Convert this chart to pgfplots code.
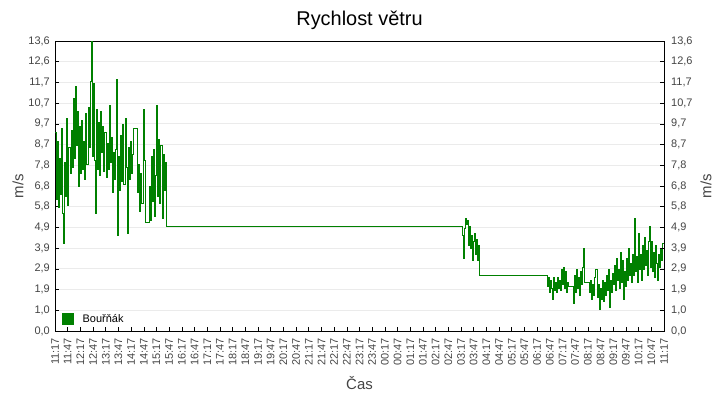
\documentclass[border=0pt]{standalone}
\usepackage{fontspec}
\setmainfont{Liberation Sans}
\usepackage{pgfplots}
\usepackage{pgfplotstable}
\pgfplotsset{compat=1.18}

\definecolor{windgreen}{RGB}{0,128,0}
\definecolor{gridgray}{RGB}{235,235,235}
\definecolor{labelgray}{RGB}{68,68,68}

% t = minutes since 11:17, v = wind speed in m/s
\pgfplotstableread{
t v
0 9.3
2.5 6.2
5 8.9
7.5 5.8
10 8.1
12.5 6.4
15 9.5
17.5 5.5
20 4.1
22.5 7.9
25 6.3
27.5 10.0
30 5.9
32.5 8.6
35 7.4
37.5 9.4
40 7.7
42.5 10.9
45 8.1
47.5 11.5
50 8.7
52.5 10.3
55 6.8
57.5 9.6
60 7.4
62.5 9.9
65 7.6
67.5 8.9
70 7.1
72.5 10.2
75 7.8
77.5 10.5
80 8.6
82.5 11.7
85 13.6
87.5 8.2
90 11.6
92.5 8.0
95 5.5
97.5 10.4
100 7.6
102.5 9.8
105 7.3
107.5 10.3
110 8.4
112.5 9.6
115 7.5
117.5 9.3
120 7.2
122.5 8.8
125 7.6
127.5 10.6
130 7.9
132.5 9.1
135 6.5
137.5 8.4
140 7.1
142.5 8.5
145 11.8
147.5 4.5
150 8.2
152.5 6.6
155 9.2
157.5 7.0
160 9.7
162.5 6.9
165 10.0
167.5 7.7
170 4.6
172.5 8.6
175 7.1
177.5 8.9
180 7.4
182.5 8.3
185 9.5
187.5 9.5
190 9.5
192.5 9.5
195 6.5
197.5 7.8
200 5.6
202.5 7.4
205 6.0
207.5 10.4
210 8.0
212.5 5.1
215 5.1
217.5 5.1
220 5.1
222.5 6.8
225 5.2
227.5 8.2
230 6.1
232.5 8.5
235 5.4
237.5 7.3
240 10.6
242.5 6.3
245 9.0
247.5 6.0
250 8.7
252.5 5.3
255 8.3
257.5 6.6
260 7.9
262.5 4.9
962 4.5
964.5 3.4
967 4.8
969 5.3
971.5 5.0
974 5.2
976 4.0
978.5 4.9
981 3.9
983.5 4.5
986 3.3
988 4.2
990.5 4.6
993 3.6
995 4.3
997.5 3.3
1000 4.0
1002 2.6
1161 2.6
1163.4 2.1
1165.8 2.5
1168.2 1.8
1170.6 2.4
1173 2.0
1175.4 1.5
1177.8 2.5
1180.2 1.9
1182.6 2.3
1185 1.8
1187.4 2.5
1189.8 2.0
1192.2 2.4
1194.6 1.9
1197 2.9
1199.4 2.2
1201.8 3.0
1204.2 2.0
1206.6 2.8
1209 1.8
1211.4 2.3
1213.8 2.1
1216.2 2.1
1218.6 2.1
1221 2.1
1223.4 2.1
1225.8 1.3
1228.2 2.6
1230.6 1.8
1233 2.9
1235.4 2.0
1237.8 2.5
1240.2 1.7
1242.6 2.8
1245 2.2
1247.4 3.0
1249.8 3.9
1252.2 2.3
1254.6 2.3
1257 2.3
1259.4 2.3
1261.8 2.3
1264.2 1.8
1266.6 2.4
1269 1.5
1271.4 2.2
1273.8 1.7
1276.2 2.5
1278.6 2.9
1281 1.6
1283.4 2.2
1285.8 1.0
1288.2 2.0
1290.6 1.5
1293 2.4
1295.4 1.4
1297.8 2.3
1300.2 1.7
1302.6 2.6
1305 1.9
1307.4 2.9
1309.8 1.1
1312.2 2.4
1314.6 1.8
1317 2.7
1319.4 2.2
1321.8 3.1
1324.2 1.9
1326.6 3.4
1329 2.4
1331.4 2.9
1333.8 2.0
1336.2 3.7
1338.6 2.3
1341 3.3
1343.4 1.5
1345.8 2.8
1348.2 2.1
1350.6 3.4
1353 2.4
1355.4 3.9
1357.8 2.6
1360.2 3.2
1362.6 2.3
1365 3.6
1367.4 2.6
1369.8 5.3
1372.2 2.8
1374.6 3.5
1377 2.3
1379.4 4.6
1381.8 2.9
1384.2 3.6
1386.6 2.4
1389 4.0
1391.4 2.9
1393.8 4.4
1396.2 3.1
1398.6 3.8
1401 2.6
1403.4 4.2
1405.8 4.9
1408.2 3.0
1410.6 4.2
1413 2.8
1415.4 3.7
1417.8 2.5
1420.2 4.0
1422.6 3.2
1425 2.4
1427.4 3.6
1429.8 3.0
1432.2 3.9
1434.6 3.3
1437 4.1
1439.4 3.2
1440 3.0
}\windtable

\pgfplotsset{
  windbase/.style={
    scale only axis,
    width=609bp, height=290bp,
    xmin=0, xmax=1440, ymin=0, ymax=13.6,
    ytick={0,0.97143,1.94286,2.91429,3.88571,4.85714,5.82857,6.8,7.77143,8.74286,9.71429,10.68571,11.65714,12.62857,13.6},
    yticklabels={{0,0},{1,0},{1,9},{2,9},{3,9},{4,9},{5,8},{6,8},{7,8},{8,7},{9,7},{10,7},{11,7},{12,6},{13,6}},
    major tick length=4bp,
    tick style={black, line width=0.6bp},
    tick align=inside,
    axis line style={black, line width=0.8bp},
    tick label style={font=\fontsize{11}{13}\selectfont, text=labelgray},
    yticklabel style={inner sep=0pt},
  }
}

\begin{document}
\begin{tikzpicture}
\begin{axis}[
  windbase,
  xtick={0,30,...,1440},
  xticklabels={11:17,11:47,12:17,12:47,13:17,13:47,14:17,14:47,15:17,15:47,16:17,16:47,17:17,17:47,18:17,18:47,19:17,19:47,20:17,20:47,21:17,21:47,22:17,22:47,23:17,23:47,00:17,00:47,01:17,01:47,02:17,02:47,03:17,03:47,04:17,04:47,05:17,05:47,06:17,06:47,07:17,07:47,08:17,08:47,09:17,09:47,10:17,10:47,11:17},
  xticklabel style={rotate=90, anchor=east, inner sep=0pt},
  xticklabel shift=7bp,
  yticklabel shift=5bp,
  xtick pos=bottom,
  ytick pos=left,
  ymajorgrids,
  grid style={gridgray, line width=0.8bp},
  xlabel={Čas},
  ylabel={m/s},
  every axis x label/.style={at={(axis description cs:0.5,0)}, anchor=center, yshift=-52bp,
    font=\fontsize{15}{18}\selectfont, text=labelgray},
  every axis y label/.style={at={(axis description cs:0,0.5)}, xshift=-37bp, rotate=90, anchor=center,
    font=\fontsize{15}{18}\selectfont, text=labelgray},
  title={Rychlost větru},
  every axis title shift=0pt,
  title style={at={(axis description cs:0.5,1)}, anchor=center, yshift=21bp,
    font=\fontsize{20}{24}\selectfont, text=black},
  legend style={at={(axis description cs:0,0)}, anchor=south west, xshift=4bp, yshift=3bp,
    draw=none, fill=none, font=\fontsize{11}{13}\selectfont},
  legend cell align=left,
]
\addplot[const plot, windgreen, line width=0.5bp,
  legend image code/.code={\fill[windgreen] (0bp,-5.5bp) rectangle (11bp,5.5bp); \path (18bp,0bp);}]
  table[x=t, y=v] {\windtable};
\addlegendentry{Bouřňák}
\end{axis}
\begin{axis}[
  windbase,
  axis x line=none,
  axis y line*=right,
  yticklabel shift=7bp,
  ylabel={m/s},
  every axis y label/.style={at={(axis description cs:1,0.5)}, xshift=42bp, rotate=90, anchor=center,
    font=\fontsize{15}{18}\selectfont, text=labelgray},
]
\addplot[draw=none] coordinates {(0,0)};
\end{axis}
\pgfresetboundingbox
\path[use as bounding box] (current axis.south west) ++(-55bp,-69bp) rectangle ++(720bp,400bp);
\end{tikzpicture}
\end{document}
